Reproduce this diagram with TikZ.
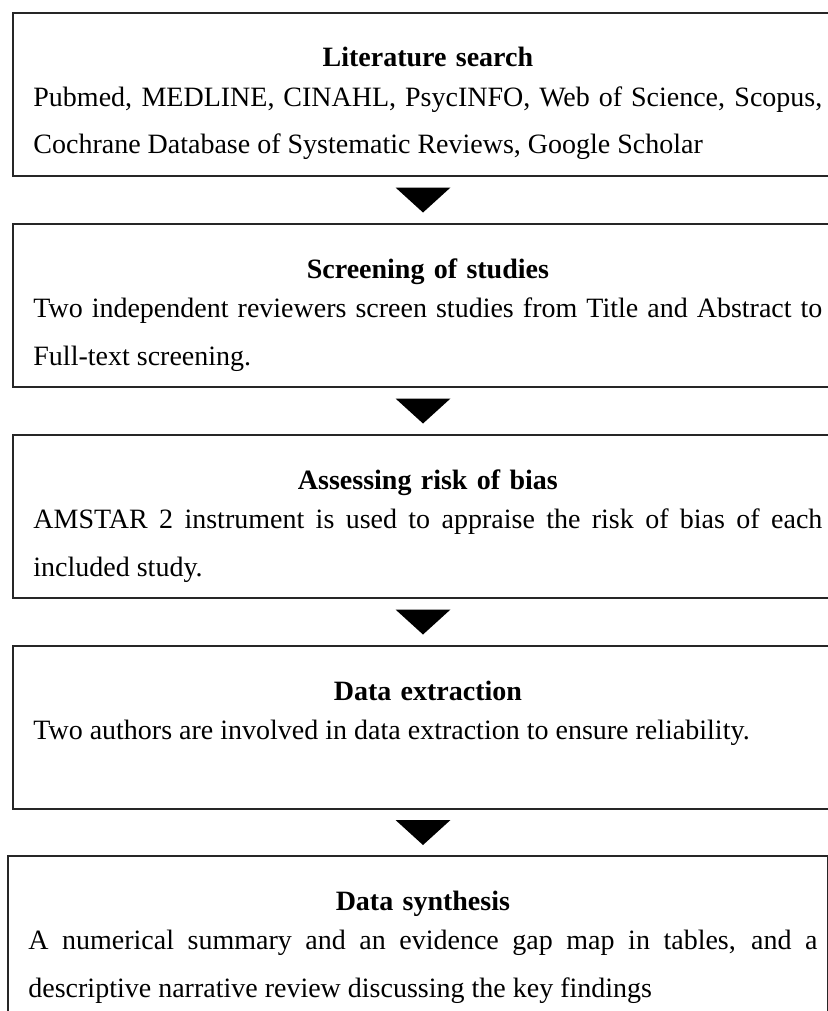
\documentclass[tikz,border=0pt]{standalone}
\usepackage{fontspec}
\setmainfont{Liberation Serif}
\usetikzlibrary{calc}
\usetikzlibrary{positioning}
\hyphenpenalty=10000
\exhyphenpenalty=10000

\begin{document}
\begin{tikzpicture}

    \def\d{23pt}

    % looks of the boxes, their titles and their texts
    \tikzset{
        stepbox/.style={draw=black!85, line width=1pt, inner sep=0pt,
            minimum width=410pt, minimum height=81.5pt},
        steptitle/.style={inner sep=0pt, text width=394.5pt, align=center,
            anchor=base west, font=\fontsize{14pt}{24pt}\selectfont\bfseries},
        steptext/.style={inner sep=0pt, text width=394.5pt, align=justify,
            anchor=base west, font=\fontsize{14pt}{24pt}\selectfont},
        downtri/.pic={\fill (-13.75pt,6.25pt) -- (13.75pt,6.25pt) -- (0pt,-6.25pt) -- cycle;}
    }

    \clip (0pt,0pt) rectangle (414pt,-505.5pt);

    % the five boxes, one under the other
    \node[stepbox, anchor=north west] (search) at (6pt,-6pt) {};
    \node[stepbox] (screen) [below=\d of search] {};
    \node[stepbox] (bias) [below=\d of screen] {};
    \node[stepbox] (extract) [below=\d of bias] {};
    \node[stepbox, below=22.5pt of extract, xshift=-2.5pt, minimum height=120pt] (synth) {};

    % titles
    \node[steptitle] (searchT) at ($(search.north west)+(10.5pt,-27.5pt)$) {Literature search};
    \node[steptitle] (screenT) at ($(screen.north west)+(10.5pt,-27.5pt)$) {Screening of studies};
    \node[steptitle] (biasT) at ($(bias.north west)+(10.5pt,-27.5pt)$) {Assessing risk of bias};
    \node[steptitle] (extractT) at ($(extract.north west)+(10.5pt,-27.5pt)$) {Data extraction};
    \node[steptitle] (synthT) at ($(synth.north west)+(10.5pt,-27.5pt)$) {Data synthesis};

    % texts
    \node[steptext] (searchB) at ($(search.north west)+(10.5pt,-47pt)$)
    {Pubmed, MEDLINE, CINAHL, PsycINFO, Web of Science, Scopus,\linebreak
     Cochrane Database of Systematic Reviews, Google Scholar};
    \node[steptext] (screenB) at ($(screen.north west)+(10.5pt,-47pt)$)
    {Two independent reviewers screen studies from Title and Abstract to\linebreak
     Full-text screening.};
    \node[steptext] (biasB) at ($(bias.north west)+(10.5pt,-47pt)$)
    {AMSTAR 2 instrument is used to appraise the risk of bias of each\linebreak
     included study.};
    \node[steptext] (extractB) at ($(extract.north west)+(10.5pt,-47pt)$)
    {Two authors are involved in data extraction to ensure reliability.};
    \node[steptext] (synthB) at ($(synth.north west)+(10.5pt,-47pt)$)
    {A numerical summary and an evidence gap map in tables, and a\linebreak
     descriptive narrative review discussing the key findings};

    % arrows between the boxes
    \foreach \a/\b in {search/screen, screen/bias, bias/extract, extract/synth}
        \pic at ($(\a.south)!0.5!(\a.south |- \b.north)$) {downtri};

\end{tikzpicture}
\end{document}
